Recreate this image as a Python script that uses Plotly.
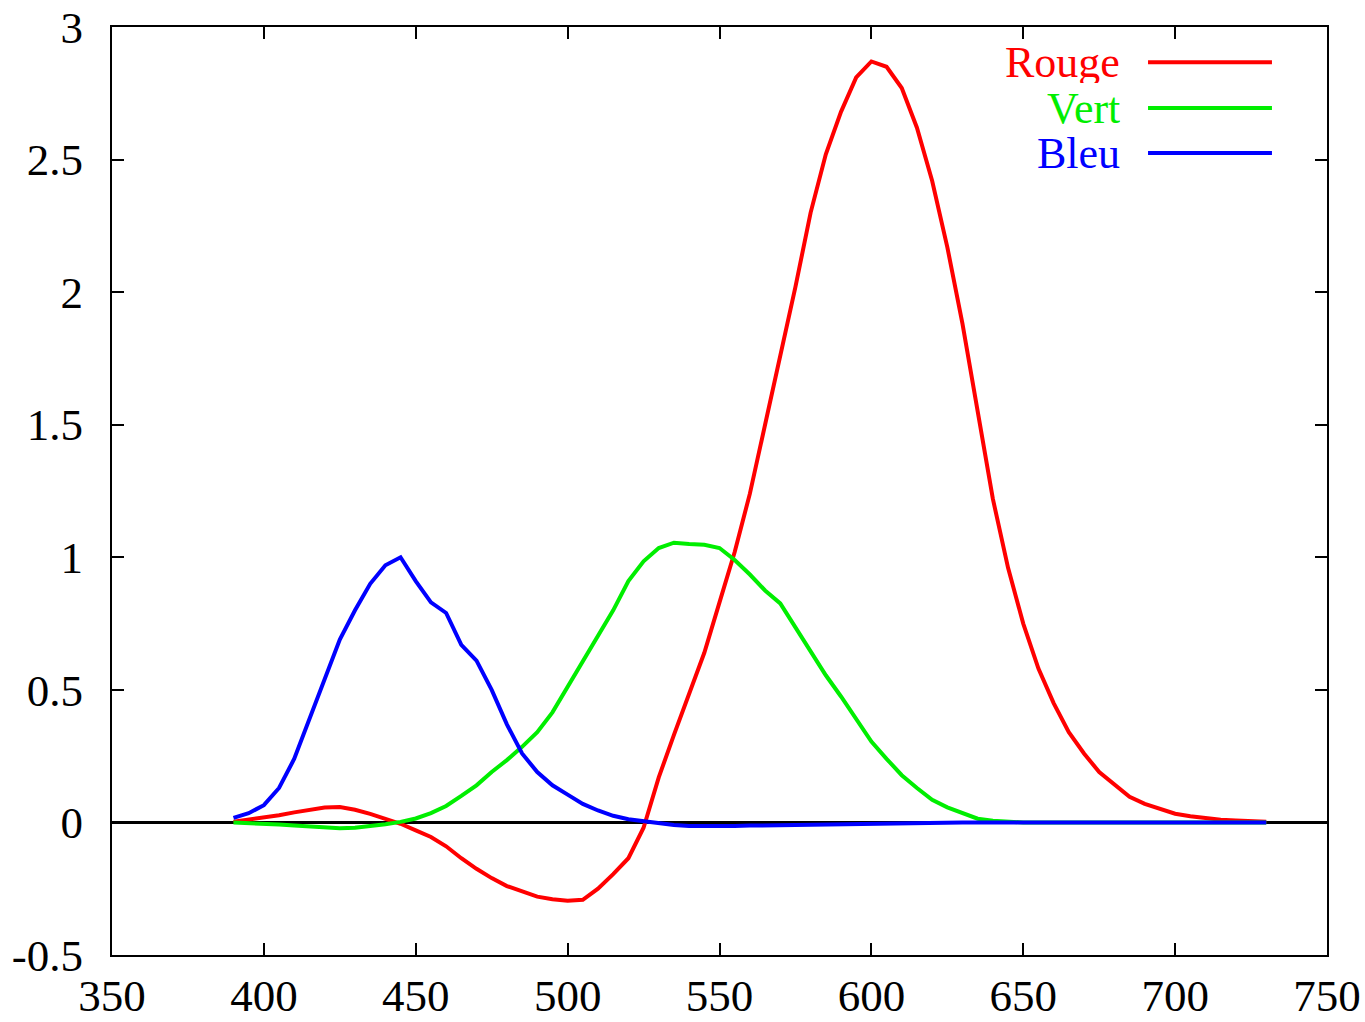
import plotly.graph_objects as go

# Wavelength samples (nm)
wavelength = list(range(390, 735, 5))

# Colour matching functions, one value per wavelength sample
rouge = [
    0.003, 0.010, 0.018, 0.027, 0.038, 0.048, 0.056, 0.058, 0.048, 0.032,
    0.012, -0.005, -0.030, -0.055, -0.090, -0.135, -0.175, -0.210, -0.240, -0.260,
    -0.280, -0.290, -0.295, -0.292, -0.250, -0.195, -0.135, -0.020, 0.170, 0.330,
    0.480, 0.640, 0.830, 1.020, 1.240, 1.500, 1.750, 2.020, 2.300, 2.520,
    2.680, 2.810, 2.870, 2.850, 2.770, 2.620, 2.420, 2.170, 1.880, 1.540,
    1.220, 0.960, 0.750, 0.580, 0.450, 0.340, 0.260, 0.190, 0.142, 0.097,
    0.070, 0.050, 0.033, 0.023, 0.016, 0.010, 0.007, 0.005, 0.003,
]
vert = [
    0.000, -0.002, -0.005, -0.008, -0.012, -0.016, -0.020, -0.022, -0.020, -0.015,
    -0.007, 0.002, 0.015, 0.035, 0.062, 0.100, 0.140, 0.190, 0.235, 0.285,
    0.340, 0.415, 0.510, 0.605, 0.700, 0.800, 0.910, 0.985, 1.035, 1.055,
    1.050, 1.047, 1.035, 0.990, 0.935, 0.875, 0.826, 0.735, 0.640, 0.555,
    0.475, 0.390, 0.305, 0.240, 0.178, 0.130, 0.085, 0.057, 0.035, 0.014,
    0.006, 0.002, 0.000, 0.000, 0.000, 0.000, 0.000, 0.000, 0.000, 0.000,
    0.000, 0.000, 0.000, 0.000, 0.000, 0.000, 0.000, 0.000, 0.000,
]
bleu = [
    0.017, 0.035, 0.065, 0.130, 0.240, 0.390, 0.550, 0.690, 0.800, 0.900,
    0.970, 1.000, 0.910, 0.830, 0.790, 0.670, 0.610, 0.500, 0.370, 0.260,
    0.190, 0.140, 0.105, 0.070, 0.045, 0.025, 0.012, 0.004, -0.005, -0.010,
    -0.013, -0.014, -0.014, -0.013, -0.012, -0.011, -0.010, -0.008, -0.007, -0.006,
    -0.005, -0.004, -0.003, -0.002, -0.002, -0.001, -0.001, -0.001, 0.000, 0.000,
    0.000, 0.000, 0.000, 0.000, 0.000, 0.000, 0.000, 0.000, 0.000, 0.000,
    0.000, 0.000, 0.000, 0.000, 0.000, 0.000, 0.000, 0.000, 0.000,
]

series_names = ["Rouge", "Vert", "Bleu"]
series_colors = ["#ff0000", "#00ee00", "#0000ff"]
series_values = [rouge, vert, bleu]

x_ticks = [350, 400, 450, 500, 550, 600, 650, 700, 750]
y_ticks = [-0.5, 0, 0.5, 1, 1.5, 2, 2.5, 3]
y_tick_labels = ["-0.5", "0", "0.5", "1", "1.5", "2", "2.5", "3"]

FONT = "Liberation Serif"
LINE_W = 4

fig = go.Figure()
for name, color, values in zip(series_names, series_colors, series_values):
    fig.add_trace(go.Scatter(
        x=wavelength, y=values, mode="lines", name=name,
        line=dict(color=color, width=LINE_W), showlegend=False,
    ))

# Key: label on the left, line sample on the right
key_rows = [0.962, 0.9127, 0.8642]
for name, color, yrow in zip(series_names, series_colors, key_rows):
    fig.add_annotation(
        x=0.8313, y=yrow, xref="paper", yref="paper",
        text=name, showarrow=False, xanchor="right", yanchor="middle",
        height=42, valign="middle",
        font=dict(family=FONT, size=44, color=color),
    )
    fig.add_shape(
        type="line", xref="paper", yref="paper",
        x0=0.8527, x1=0.9547, y0=yrow, y1=yrow,
        line=dict(color=color, width=LINE_W),
    )

axis_common = dict(
    showgrid=False, showline=True, linecolor="black", linewidth=2,
    mirror="ticks", ticks="inside", ticklen=12, tickwidth=1.5, tickcolor="black",
    tickfont=dict(family=FONT, size=45, color="black"), automargin=False,
)

fig.update_xaxes(range=[350, 750], tickvals=x_ticks, zeroline=False, **axis_common)
fig.update_yaxes(range=[-0.5, 3], tickvals=y_ticks, ticktext=y_tick_labels,
                 zeroline=True, zerolinecolor="black", zerolinewidth=2.5,
                 ticklabelstandoff=18, **axis_common)

fig.update_layout(
    width=1365, height=1022,
    margin=dict(l=112, r=38, t=27, b=67),
    paper_bgcolor="white", plot_bgcolor="white",
)

fig.write_html("out.html")
